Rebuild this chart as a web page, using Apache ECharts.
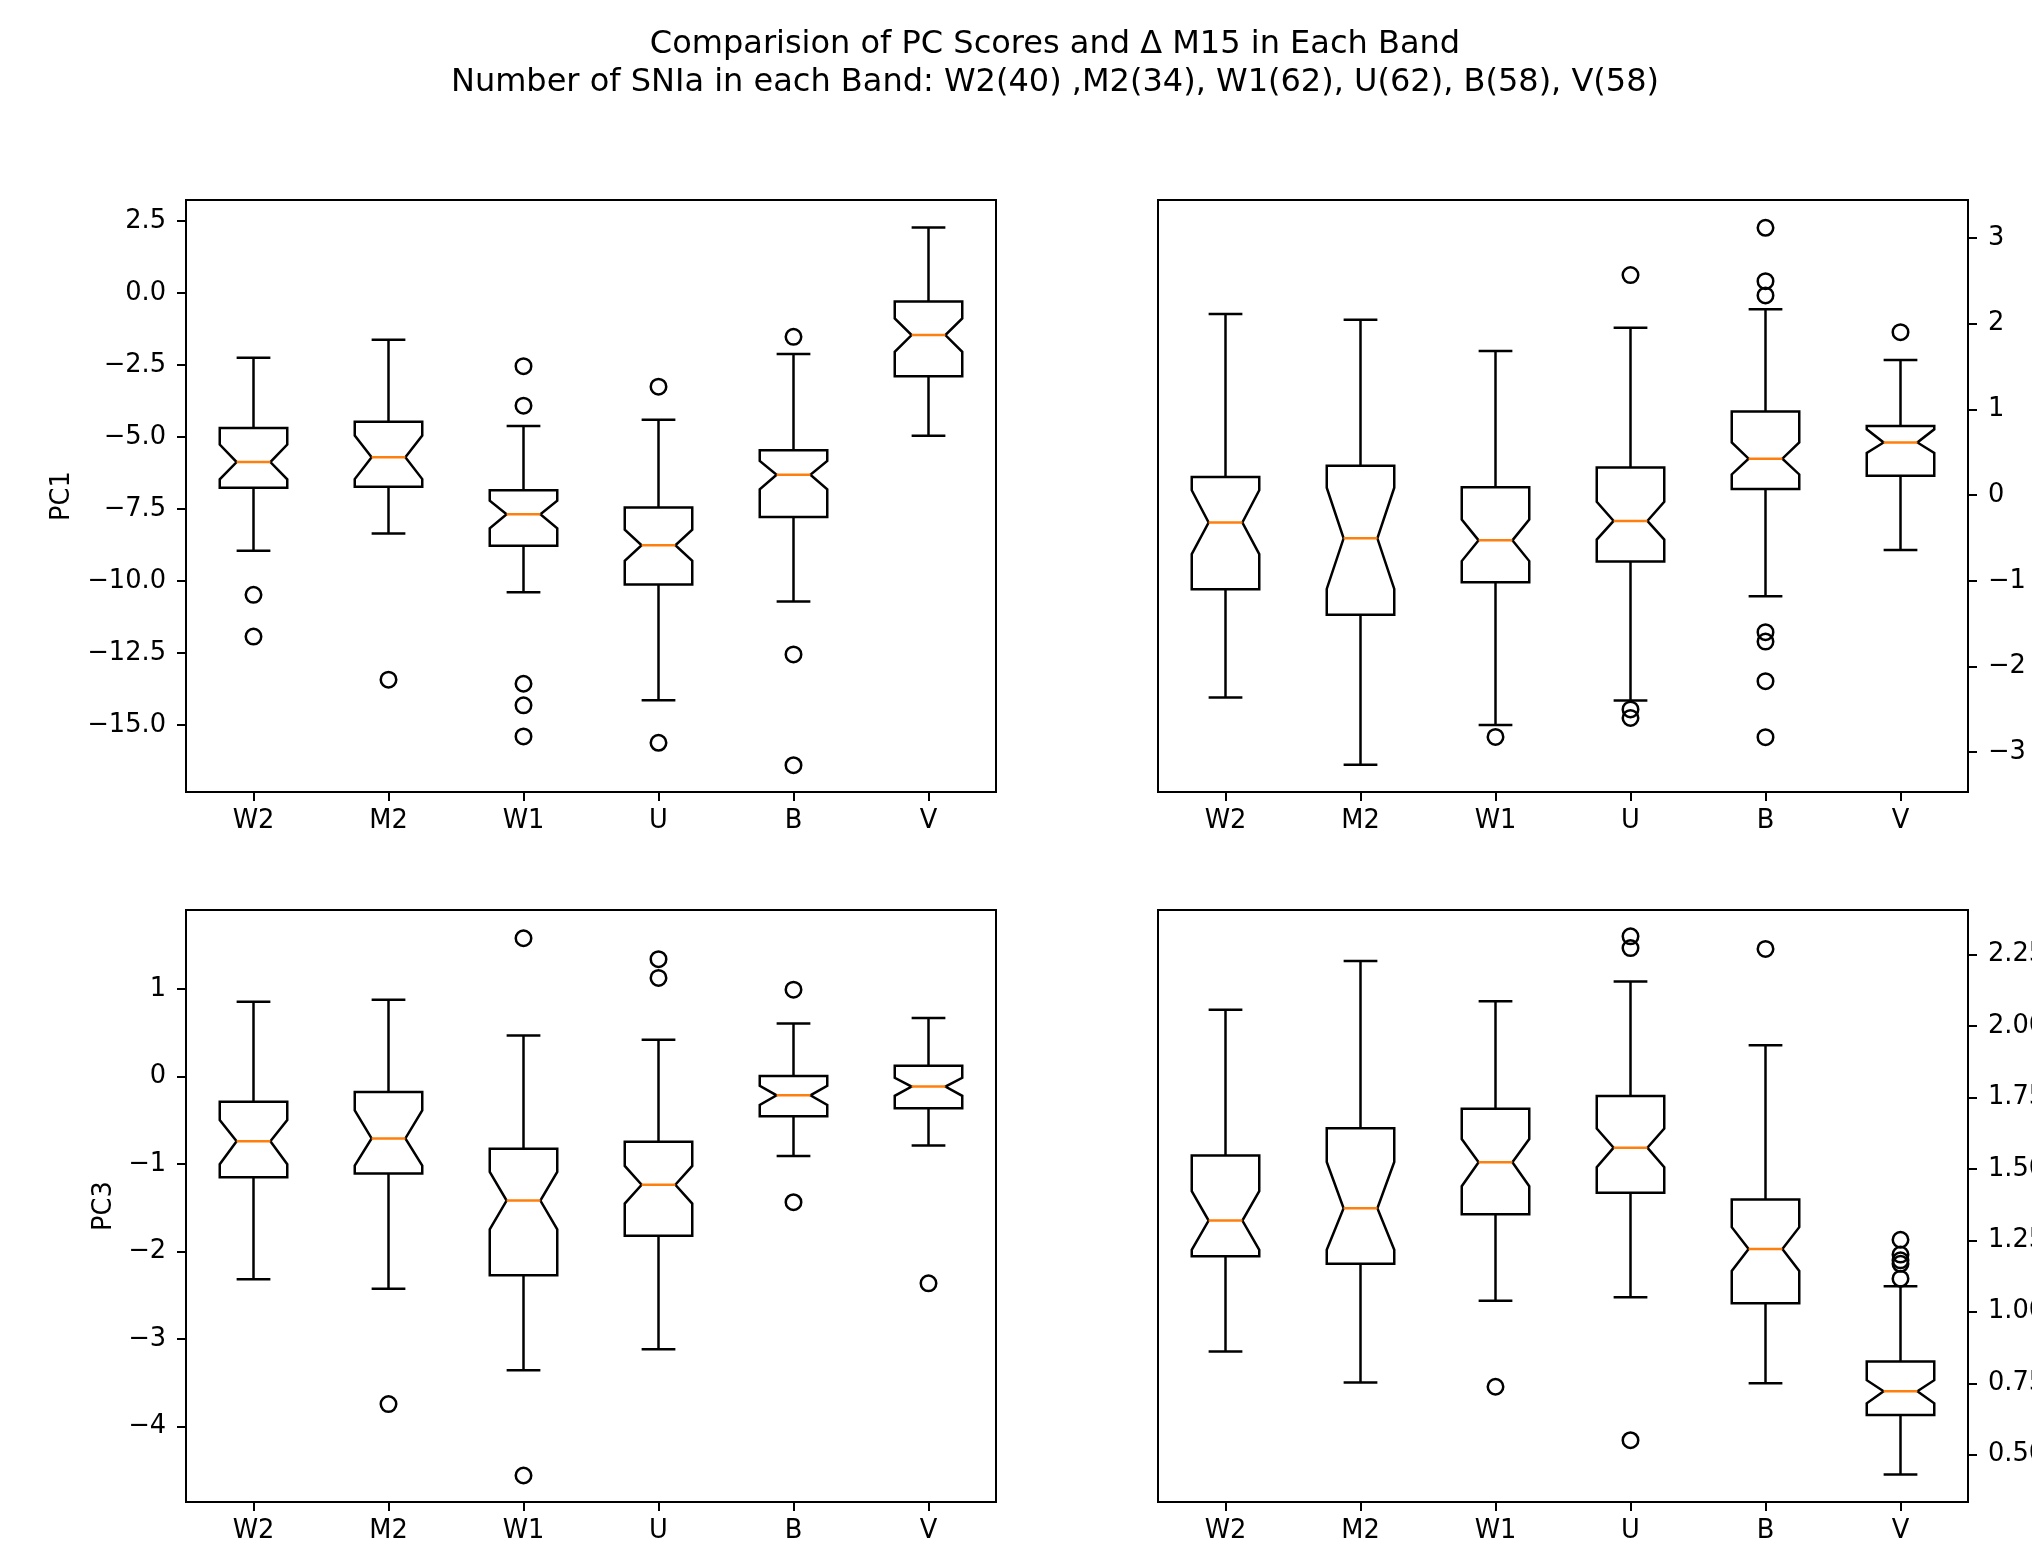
<!DOCTYPE html>
<html>
<head>
<meta charset="utf-8">
<script src="https://cdn.jsdelivr.net/npm/echarts@6/dist/echarts.min.js"></script>
<style>
html,body{margin:0;padding:0;background:#fff;}
#chart{width:2032px;height:1545px;}
</style>
</head>
<body>
<div id="chart"></div>
<script>
// ---------- data ----------
const bands = ['W2', 'M2', 'W1', 'U', 'B', 'V'];
const titleLine1 = 'Comparision of PC Scores and \u0394 M15 in Each Band';
const titleLine2 = 'Number of SNIa in each Band: W2(40) ,M2(34), W1(62), U(62), B(58), V(58)';

// each box: [lower whisker, Q1, median, Q3, upper whisker]
const pc1Box = [
  [-8.95, -6.76, -5.87, -4.69, -2.25],
  [-8.35, -6.73, -5.70, -4.47, -1.62],
  [-10.39, -8.78, -7.68, -6.85, -4.62],
  [-14.14, -10.12, -8.76, -7.45, -4.40],
  [-10.71, -7.78, -6.31, -5.46, -2.12],
  [-4.96, -2.89, -1.46, -0.29, 2.28]
];
// notch: [lower, upper]
const pc1Notch = [[-6.47, -5.26], [-6.46, -4.95], [-8.17, -7.21], [-9.30, -8.22], [-6.82, -5.83], [-2.04, -0.88]];
// outliers: [band index, value]
const pc1Outliers = [[0, -10.48], [0, -11.93], [1, -13.43], [2, -2.54], [2, -3.91], [2, -13.57], [2, -14.32], [2, -15.40],
  [3, -3.25], [3, -15.62], [4, -1.52], [4, -12.55], [4, -16.40]];
const pc1Ticks = [-15, -12.5, -10, -7.5, -5, -2.5, 0, 2.5];

const pc2Box = [
  [-2.361, -1.098, -0.319, 0.213, 2.115],
  [-3.145, -1.394, -0.503, 0.344, 2.047],
  [-2.681, -1.016, -0.527, 0.092, 1.684],
  [-2.395, -0.774, -0.300, 0.324, 1.955],
  [-1.180, 0.073, 0.426, 0.977, 2.170],
  [-0.639, 0.227, 0.615, 0.808, 1.577]
];
const pc2Notch = [[-0.687, 0.058], [-1.094, 0.087], [-0.769, -0.285], [-0.518, -0.077], [0.242, 0.615], [0.494, 0.769]];
const pc2Outliers = [[2, -2.821], [3, 2.569], [3, -2.50], [3, -2.60], [4, 3.121], [4, 2.498], [4, 2.331],
  [4, -1.599], [4, -1.708], [4, -2.171], [4, -2.824], [5, 1.902]];
const pc2Ticks = [-3, -2, -1, 0, 1, 2, 3];

const pc3Box = [
  [-2.316, -1.151, -0.740, -0.287, 0.855],
  [-2.426, -1.108, -0.707, -0.177, 0.879],
  [-3.357, -2.273, -1.418, -0.826, 0.468],
  [-3.118, -1.819, -1.237, -0.745, 0.420],
  [-0.907, -0.454, -0.215, 0.005, 0.606],
  [-0.788, -0.363, -0.115, 0.124, 0.669]
];
const pc3Notch = [[-1.003, -0.497], [-1.017, -0.387], [-1.748, -1.089], [-1.452, -1.022], [-0.325, -0.105], [-0.220, -0.014]];
const pc3Outliers = [[1, -3.744], [2, 1.581], [2, -4.561], [3, 1.342], [3, 1.127], [4, 0.993], [4, -1.437], [5, -2.364]];
const pc3Ticks = [-4, -3, -2, -1, 0, 1];

const dm15Box = [
  [0.861, 1.194, 1.319, 1.547, 2.056],
  [0.753, 1.168, 1.362, 1.642, 2.227],
  [1.039, 1.341, 1.523, 1.710, 2.086],
  [1.051, 1.416, 1.574, 1.755, 2.155],
  [0.750, 1.030, 1.220, 1.393, 1.932],
  [0.431, 0.639, 0.722, 0.826, 1.089]
];
const dm15Notch = [[1.217, 1.422], [1.217, 1.524], [1.439, 1.604], [1.506, 1.641], [1.143, 1.296], [0.680, 0.761]];
const dm15Outliers = [[2, 0.738], [3, 2.313], [3, 2.272], [3, 0.551], [4, 2.269],
  [5, 1.252], [5, 1.200], [5, 1.180], [5, 1.168], [5, 1.116]];
const dm15Ticks = [0.5, 0.75, 1.0, 1.25, 1.5, 1.75, 2.0, 2.25];

// ---------- layout / style ----------
const FONT = 'DejaVu Sans';
const TICK_FS = 25.7;
const LW = 2.5;
const MEDIAN_COLOR = '#ff7f0e';

const panels = [
  { box: pc1Box, notch: pc1Notch, out: pc1Outliers, ticks: pc1Ticks, min: -17.33, max: 3.233, dec: 1,
    left: 186, top: 200, side: 'left', name: 'PC1', gap: 111 },
  { box: pc2Box, notch: pc2Notch, out: pc2Outliers, ticks: pc2Ticks, min: -3.464, max: 3.445, dec: 0,
    left: 1158, top: 200, side: 'right', name: '', gap: 0 },
  { box: pc3Box, notch: pc3Notch, out: pc3Outliers, ticks: pc3Ticks, min: -4.864, max: 1.904, dec: 0,
    left: 186, top: 910, side: 'left', name: 'PC3', gap: 69 },
  { box: dm15Box, notch: dm15Notch, out: dm15Outliers, ticks: dm15Ticks, min: 0.335, max: 2.405, dec: 2,
    left: 1158, top: 910, side: 'right', name: '', gap: 0 }
];

function fmt(dec) {
  return function (v) {
    const s = Math.abs(v).toFixed(dec);
    return (v < -1e-9 ? '\u2212' : '') + s;
  };
}

function renderBox(params, api) {
  const i = api.value(0);
  const lo = api.value(1), q1 = api.value(2), med = api.value(3), q3 = api.value(4), hi = api.value(5);
  const nlo = api.value(6), nhi = api.value(7);
  const cx = api.coord([i, med])[0];
  const Y = v => api.coord([i, v])[1];
  const band = api.size([1, 0])[0];
  const bw = band * 0.25, nw = band * 0.125;
  const L = cx - bw, R = cx + bw, nl = cx - nw, nr = cx + nw;
  const ln = (x1, y1, x2, y2, color) => ({
    type: 'line', shape: { x1, y1, x2, y2 },
    style: { stroke: color || '#000', lineWidth: LW, fill: null }
  });
  return {
    type: 'group',
    children: [
      ln(cx, Y(q3), cx, Y(hi)),
      ln(cx, Y(q1), cx, Y(lo)),
      ln(nl, Y(hi), nr, Y(hi)),
      ln(nl, Y(lo), nr, Y(lo)),
      {
        type: 'polygon',
        shape: { points: [[L, Y(q1)], [R, Y(q1)], [R, Y(nlo)], [nr, Y(med)], [R, Y(nhi)], [R, Y(q3)],
          [L, Y(q3)], [L, Y(nhi)], [nl, Y(med)], [L, Y(nlo)]] },
        style: { fill: null, stroke: '#000', lineWidth: LW, lineJoin: 'miter' }
      },
      ln(nl, Y(med), nr, Y(med), MEDIAN_COLOR)
    ]
  };
}

const grid = [], xAxis = [], yAxis = [], series = [];
panels.forEach((p, k) => {
  grid.push({ left: p.left, top: p.top, width: 810, height: 592, show: true,
    borderColor: '#000', borderWidth: 2, backgroundColor: 'transparent',
    containLabel: false, outerBoundsMode: 'none' });
  xAxis.push({
    type: 'category', gridIndex: k, data: bands, boundaryGap: true, position: 'bottom',
    axisLine: { show: true, onZero: false, lineStyle: { color: '#000', width: 2 } },
    axisTick: { show: true, alignWithLabel: true, length: 9, lineStyle: { color: '#000', width: 2 } },
    axisLabel: { color: '#000', fontFamily: FONT, fontSize: TICK_FS, margin: 16.5 },
    splitLine: { show: false }
  });
  yAxis.push({
    type: 'value', gridIndex: k, position: p.side, min: p.min, max: p.max,
    name: p.name, nameLocation: 'middle', nameGap: p.gap,
    nameTextStyle: { color: '#000', fontFamily: FONT, fontSize: TICK_FS },
    axisLine: { show: true, onZero: false, lineStyle: { color: '#000', width: 2 } },
    axisTick: { show: true, length: 9, lineStyle: { color: '#000', width: 2 }, customValues: p.ticks },
    axisLabel: { color: '#000', fontFamily: FONT, fontSize: TICK_FS, margin: 20,
      customValues: p.ticks, formatter: fmt(p.dec) },
    splitLine: { show: false }
  });
  series.push({
    type: 'custom', xAxisIndex: k, yAxisIndex: k, renderItem: renderBox,
    encode: { x: 0, y: [1, 2, 3, 4, 5] },
    data: p.box.map((b, i) => [i, b[0], b[1], b[2], b[3], b[4], p.notch[i][0], p.notch[i][1]]),
    z: 2
  });
  series.push({
    type: 'scatter', xAxisIndex: k, yAxisIndex: k, data: p.out,
    symbol: 'circle', symbolSize: 15.5,
    itemStyle: { color: 'rgba(0,0,0,0)', borderColor: '#000', borderWidth: LW, opacity: 1 },
    z: 3
  });
});

const chart = echarts.init(document.getElementById('chart'), null, { renderer: 'canvas' });
chart.setOption({
  backgroundColor: '#fff',
  animation: false,
  title: {
    text: titleLine1 + '\n' + titleLine2,
    left: 1050, top: 21, textAlign: 'center',
    textStyle: { color: '#000', fontFamily: FONT, fontSize: 32, fontWeight: 'normal', lineHeight: 37.5 }
  },
  grid: grid,
  xAxis: xAxis,
  yAxis: yAxis,
  series: series
});
</script>
</body>
</html>
